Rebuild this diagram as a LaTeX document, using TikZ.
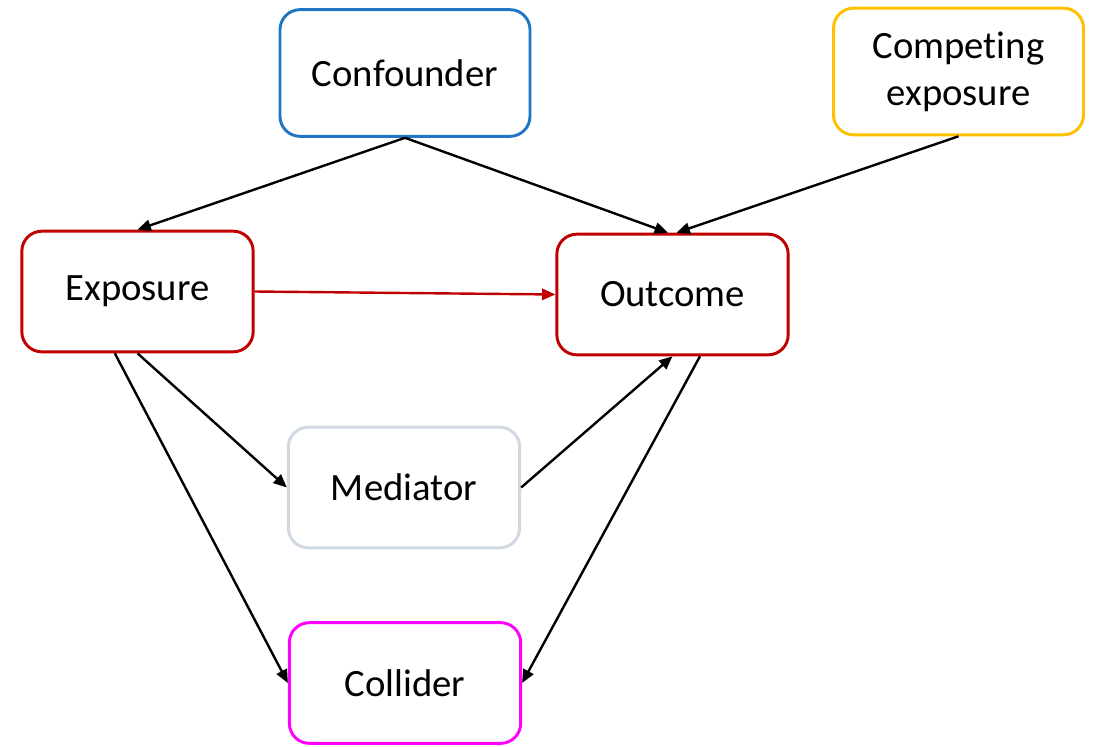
\documentclass[tikz,border=0pt]{standalone}
\usepackage{fontspec}
\setmainfont[Ligatures=CommonOff]{Carlito}
\usetikzlibrary{arrows.meta}
\definecolor{cblue}{HTML}{1F77C4}
\definecolor{cyellow}{HTML}{FFC000}
\definecolor{cred}{HTML}{C00000}
\definecolor{cgray}{HTML}{D0D8E2}
\definecolor{cmag}{HTML}{FF00FF}
\begin{document}
\begin{tikzpicture}[x=0.75pt,y=-0.75pt,
  box/.style={draw,line width=2.2pt,rounded corners=15pt,fill=white,align=center,
    font=\fontsize{29}{35}\selectfont,inner sep=0pt},
  big/.style={minimum width=187.5pt,minimum height=95pt},
  small/.style={minimum width=173.5pt,minimum height=90.5pt},
  arr/.style={line width=1.8pt,-{Triangle[length=10pt,width=8.5pt]}}]
\useasboundingbox (0,0) rectangle (1094,746);
\node[box,big,draw=cblue] (conf) at (405,73) {Confounder};
\node[box,big,draw=cyellow] (comp) at (958.5,71.5) {Competing\\exposure};
\node[box,small,draw=cred] (expo) at (137.5,291.5) {Exposure};
\node[box,small,draw=cred] (outc) at (672.5,294.5) {Outcome};
\node[box,small,draw=cgray] (medi) at (404,487.5) {Mediator};
\node[box,small,draw=cmag] (coll) at (405,683) {Collider};
\draw[arr] (conf.south) -- (expo.north);
\draw[arr] (conf.south) -- ([xshift=-3.4pt]outc.north);
\draw[arr] (comp.south) -- ([xshift=3pt]outc.north);
\draw[arr,draw=cred,fill=cred] (expo.east) -- (outc.west);
\draw[arr] ([xshift=0pt]expo.south) -- (medi.west);
\draw[arr] ([xshift=-17pt]expo.south) -- (coll.west);
\draw[arr] (medi.east) -- (outc.south);
\draw[arr] ([xshift=20.6pt]outc.south) -- (coll.east);
\end{tikzpicture}
\end{document}
